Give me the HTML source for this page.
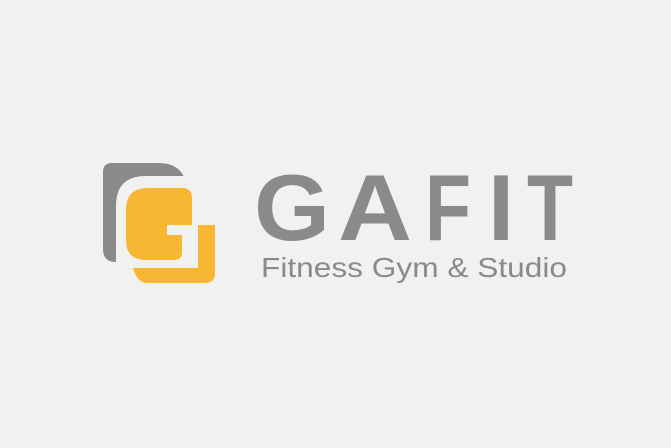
<!DOCTYPE html>
<html><head><meta charset="utf-8"><style>
html,body{margin:0;padding:0;background:#f1f1ef;}
svg{display:block}
</style></head><body>
<svg width="671" height="448" viewBox="0 0 671 448">
<rect width="671" height="448" fill="#f1f1ef"/>
<g>
 <path d="M103 172 Q103 163 112 163 L158 163 Q183 163 186 185 L186 262 L116 262 Q103 262 103 249 Z" fill="#8a8a8a"/>
 <path d="M116 206 Q116 176 146 176 L190 176 Q205 176 205 192 L205 300 L116 300 Z" fill="#f1f1ef"/>
 <path d="M126 210 Q126 188 148 188 L182 188 Q192 188 192 198 L192 225 L167 225 L167 235 L182 235 L182 252 Q182 260 174 260 L146 260 Q126 260 126 240 Z" fill="#f7b733"/>
 <path d="M198 225 L215 225 L215 273 Q215 283 205 283 L145 283 Q136 280 133 268 L198 268 Z" fill="#f7b733"/>
</g>
<g fill="#8a8a8a" font-family="Liberation Sans, sans-serif" font-weight="bold" font-size="94">
 <text x="254" y="240" textLength="76" lengthAdjust="spacingAndGlyphs">G</text>
 <text x="338" y="240" textLength="74" lengthAdjust="spacingAndGlyphs">A</text>
 <text x="425" y="240" textLength="46" lengthAdjust="spacingAndGlyphs">F</text>
 <text x="488" y="240">I</text>
 <text x="527" y="240" textLength="46" lengthAdjust="spacingAndGlyphs">T</text>
</g>
<text x="261" y="277" fill="#8a8a8a" font-family="Liberation Sans, sans-serif" font-size="28" textLength="306" lengthAdjust="spacingAndGlyphs">Fitness Gym &amp; Studio</text>
</svg>
</body></html>
